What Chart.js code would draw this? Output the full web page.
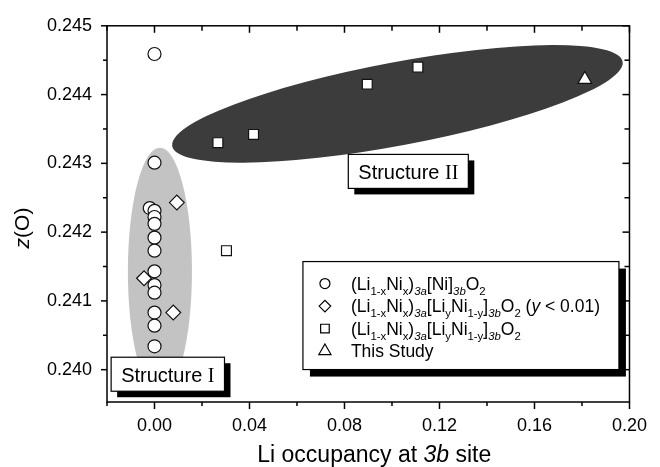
<!DOCTYPE html>
<html>
<head>
<meta charset="utf-8">
<script src="https://cdn.jsdelivr.net/npm/chart.js@4.4.1/dist/chart.umd.min.js"></script>
<style>
  html, body { margin: 0; padding: 0; background: #fff; }
</style>
</head>
<body>
<canvas id="c" width="660" height="467"></canvas>
<script>
const FONT = '"Liberation Sans", Arial, sans-serif';
const SERIF = '"Liberation Serif", "Times New Roman", serif';

// Li occupancy at 3b site (x) vs z(O) (y), one pair of arrays per series
const circleX = [0, 0, -0.002, 0, 0, 0, 0, 0, 0, 0, 0, 0, 0, 0];
const circleY = [0.24459, 0.24301, 0.24235, 0.24231, 0.24222, 0.24212, 0.24192, 0.24173, 0.24143, 0.24123, 0.24112, 0.24083, 0.24064, 0.24034];
const diamondX = [0.0094, -0.0044, 0.0079];
const diamondY = [0.24243, 0.24133, 0.24083];
const squareX = [0.0267, 0.0417, 0.0896, 0.1109, 0.0303];
const squareY = [0.24330, 0.24342, 0.24415, 0.24440, 0.24173];
const studyX = [0.1812];
const studyY = [0.24422];

const xTicks = [0, 0.04, 0.08, 0.12, 0.16, 0.20];
const xMinor = [-0.02, 0.02, 0.06, 0.10, 0.14, 0.18];
const yTicks = [0.240, 0.241, 0.242, 0.243, 0.244, 0.245];
const yMinor = [0.2405, 0.2415, 0.2425, 0.2435, 0.2445];

const legendLabels = [
    '(Li_{1-x}Ni_{x})_{*3a*}[Ni]_{*3b*}O_{2}',
    '(Li_{1-x}Ni_{x})_{*3a*}[Li_{y}Ni_{1-y}]_{*3b*}O_{2} (*y* < 0.01)',
    '(Li_{1-x}Ni_{x})_{*3a*}[Li_{y}Ni_{1-y}]_{*3b*}O_{2}',
    'This Study'
];
const legendStyles = ['circle', 'rectRot', 'rect', 'triangle'];
const legendRadius = [5, 5.8, 6.1, 7];

// shaded regions, in data units
const regionI = { cx: 0.00228, cy: 0.24143, rx: 0.01349, ry: 0.001798 };
const regionII = { x1: 0.00747, y1: 0.24325, x2: 0.1971, y2: 0.24448, half: 0.000604 };

// labelled boxes, anchored at their top-left corner in data units
const boxes = [
    { text: 'Structure ~I~', x: -0.01826, y: 0.240181 },
    { text: 'Structure ~II~', x: 0.0816, y: 0.24313 }
];
const legendAnchor = { x: 0.0625, y: 0.241572 };

const xTitle = 'Li occupancy at *3b* site';
const yTitle = '*z*(O)';


// tiny markup: _{..} subscript, *..* italic, ~..~ serif
function parseRich(str) {
    const segs = [];
    let sub = false, it = false, serif = false, buf = '';
    const push = () => { if (buf) { segs.push({ t: buf, sub, it, serif }); buf = ''; } };
    for (let i = 0; i < str.length; i++) {
        const ch = str[i];
        if (ch === '_' && str[i + 1] === '{') { push(); sub = true; i++; continue; }
        if (ch === '}' && sub) { push(); sub = false; continue; }
        if (ch === '*') { push(); it = !it; continue; }
        if (ch === '~') { push(); serif = !serif; continue; }
        buf += ch;
    }
    push();
    return segs;
}

function segFont(s, size) {
    const sz = s.sub ? size * 0.65 : size;
    return (s.it ? 'italic ' : '') + sz + 'px ' + (s.serif ? SERIF : FONT);
}

function richWidth(ctx, segs, size) {
    let w = 0;
    segs.forEach(s => { ctx.font = segFont(s, size); w += ctx.measureText(s.t).width; });
    return w;
}

function drawRich(ctx, segs, x, y, size) {
    ctx.textBaseline = 'alphabetic';
    ctx.textAlign = 'left';
    segs.forEach(s => {
        ctx.font = segFont(s, size);
        ctx.fillText(s.t, x, y + (s.sub ? size * 0.3 : 0));
        x += ctx.measureText(s.t).width;
    });
    return x;
}

function shadowBox(ctx, x, y, w, h, off) {
    ctx.fillStyle = '#000';
    ctx.fillRect(x + off, y + off, w, h);
    ctx.fillStyle = '#fff';
    ctx.fillRect(x, y, w, h);
    ctx.strokeStyle = '#000';
    ctx.lineWidth = 1.2;
    ctx.strokeRect(x, y, w, h);
}

const decor = {
    id: 'decor',
    beforeDatasetsDraw(chart) {
        const { ctx, scales: { x: xs, y: ys } } = chart;
        ctx.save();
        // Structure I
        const cx = xs.getPixelForValue(regionI.cx), cy = ys.getPixelForValue(regionI.cy);
        const rx = Math.abs(xs.getPixelForValue(regionI.cx + regionI.rx) - cx);
        const ry = Math.abs(ys.getPixelForValue(regionI.cy + regionI.ry) - cy);
        ctx.fillStyle = '#c3c3c3';
        ctx.beginPath();
        ctx.ellipse(cx, cy, rx, ry, 0, 0, Math.PI * 2);
        ctx.fill();
        // Structure II
        const p1 = [xs.getPixelForValue(regionII.x1), ys.getPixelForValue(regionII.y1)];
        const p2 = [xs.getPixelForValue(regionII.x2), ys.getPixelForValue(regionII.y2)];
        const a = Math.hypot(p2[0] - p1[0], p2[1] - p1[1]) / 2;
        const b = Math.abs(ys.getPixelForValue(regionII.y1 + regionII.half) - p1[1]);
        ctx.fillStyle = '#3c3c3c';
        ctx.beginPath();
        ctx.ellipse((p1[0] + p2[0]) / 2, (p1[1] + p2[1]) / 2, a, b,
            Math.atan2(p2[1] - p1[1], p2[0] - p1[0]), 0, Math.PI * 2);
        ctx.fill();
        ctx.restore();
    },
    afterDatasetsDraw(chart) {
        const { ctx, scales: { x: xs, y: ys } } = chart;
        ctx.save();
        boxes.forEach(bx => {
            const segs = parseRich(bx.text);
            const w = richWidth(ctx, segs, 20) + 20;
            const x = xs.getPixelForValue(bx.x), y = ys.getPixelForValue(bx.y);
            shadowBox(ctx, x, y, w, 34, 6);
            ctx.fillStyle = '#000';
            drawRich(ctx, segs, x + 10, y + 24.5, 20);
        });

        // legend
        const lx = xs.getPixelForValue(legendAnchor.x), ly = ys.getPixelForValue(legendAnchor.y);
        shadowBox(ctx, lx, ly, 316, 108, 7);
        legendLabels.forEach((lab, i) => {
            const rowY = ly + 22 + i * 22.5;
            ctx.fillStyle = '#fff';
            ctx.strokeStyle = '#000';
            Chart.helpers.drawPoint(ctx, { pointStyle: legendStyles[i], radius: legendRadius[i], borderWidth: 1.1, rotation: 0 }, lx + 22, rowY);
            ctx.fillStyle = '#000';
            drawRich(ctx, parseRich(lab), lx + 48, rowY + 6, 17.5);
        });
        ctx.restore();
    },
    afterDraw(chart) {
        const { ctx, chartArea: { left, right, top, bottom }, scales: { x: xs, y: ys } } = chart;
        ctx.save();
        ctx.strokeStyle = '#000';
        ctx.lineWidth = 1.5;
        ctx.strokeRect(left, top, right - left, bottom - top);

        const tick = (x1, y1, x2, y2) => { ctx.beginPath(); ctx.moveTo(x1, y1); ctx.lineTo(x2, y2); ctx.stroke(); };
        xTicks.forEach(v => { const x = xs.getPixelForValue(v); tick(x, bottom, x, bottom + 7); tick(x, top, x, top + 7); });
        xMinor.forEach(v => { const x = xs.getPixelForValue(v); tick(x, bottom, x, bottom + 4); tick(x, top, x, top + 5); });
        yTicks.forEach(v => { const y = ys.getPixelForValue(v); tick(left, y, left - 6, y); tick(right, y, right - 7, y); });
        yMinor.forEach(v => { const y = ys.getPixelForValue(v); tick(left, y, left - 4, y); tick(right, y, right - 5, y); });

        // axis titles
        ctx.fillStyle = '#000';
        const xt = parseRich(xTitle);
        drawRich(ctx, xt, (left + right) / 2 + 6 - richWidth(ctx, xt, 23) / 2, 462, 23);
        const yt = parseRich(yTitle);
        ctx.translate(29, 228);
        ctx.rotate(-Math.PI / 2);
        drawRich(ctx, yt, -richWidth(ctx, yt, 21) / 2, 0, 21);
        ctx.restore();
    }
};

const pointDefaults = {
    pointBackgroundColor: '#fff',
    pointBorderColor: '#111',
    pointBorderWidth: 1.2,
    showLine: false
};

new Chart(document.getElementById('c'), {
    type: 'scatter',
    data: {
        datasets: [
            { ...pointDefaults, data: circleX.map((x, i) => ({ x, y: circleY[i] })), pointStyle: 'circle', pointRadius: 6.5 },
            { ...pointDefaults, data: diamondX.map((x, i) => ({ x, y: diamondY[i] })), pointStyle: 'rectRot', pointRadius: 7.4 },
            { ...pointDefaults, data: squareX.map((x, i) => ({ x, y: squareY[i] })), pointStyle: 'rect', pointRadius: 7 },
            { ...pointDefaults, data: studyX.map((x, i) => ({ x, y: studyY[i] })), pointStyle: 'triangle', pointRadius: 8 }
        ]
    },
    options: {
        responsive: false,
        animation: false,
        devicePixelRatio: 1,
        layout: { padding: { left: 0, right: 23, top: 22, bottom: 0 } },
        plugins: { legend: { display: false }, tooltip: { enabled: false } },
        scales: {
            x: {
                type: 'linear',
                min: -0.02,
                max: 0.20,
                grid: { display: false, drawTicks: false },
                border: { display: false },
                ticks: {
                    padding: 13,
                    color: '#000',
                    font: { family: FONT, size: 18 },
                    maxRotation: 0,
                    autoSkip: false,
                    callback: v => v.toFixed(2)
                },
                afterBuildTicks: s => { s.ticks = xTicks.map(v => ({ value: v })); },
                afterFit: s => { s.height = 65; }
            },
            y: {
                type: 'linear',
                min: 0.23953,
                max: 0.245,
                grid: { display: false, drawTicks: false },
                border: { display: false },
                ticks: {
                    padding: 15,
                    color: '#000',
                    font: { family: FONT, size: 18 },
                    autoSkip: false,
                    callback: v => v.toFixed(3)
                },
                afterBuildTicks: s => { s.ticks = yTicks.map(v => ({ value: v })); },
                afterFit: s => { s.width = 107; }
            }
        }
    },
    plugins: [decor]
});
</script>
</body>
</html>
